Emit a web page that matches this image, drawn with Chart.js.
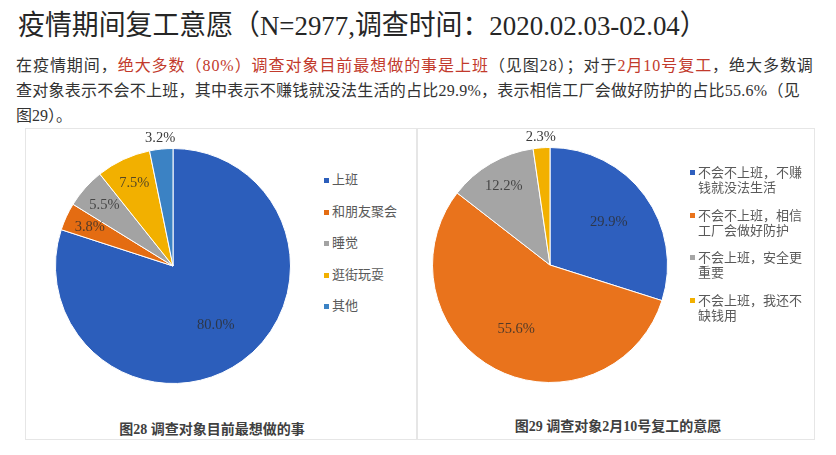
<!DOCTYPE html>
<html>
<head>
<meta charset="utf-8">
<script src="https://cdn.jsdelivr.net/npm/chart.js@4.4.1/dist/chart.umd.min.js"></script>
<style>
  body { margin: 0; width: 836px; height: 455px; background: #fff; position: relative; overflow: hidden;
         font-family: "Liberation Serif", "Noto Sans CJK SC", serif; }
  #title { position: absolute; left: 18px; top: 3px; font-size: 28px; color: #262626; white-space: nowrap;
           transform: scaleX(0.96); transform-origin: left center; }
  #para { position: absolute; left: 16px; top: 53px; font-size: 16px; line-height: 25px; color: #333; white-space: nowrap; }
  .red { color: #c23a2c; }
  .box { position: absolute; border: 1px solid #e6e6e6; background: #fff; }
  canvas { position: absolute; }
  .legend { position: absolute; font-size: 13px; color: #595959; }
  .legend .item { position: relative; padding-left: 8px; }
  .legend .mk { position: absolute; left: 0; width: 5px; height: 5px; }
  .cap { position: absolute; font-size: 14px; font-weight: bold; color: #404040; white-space: nowrap; transform: translateX(-50%); }
</style>
</head>
<body>
<div id="title">疫情期间复工意愿（N=2977,调查时间：2020.02.03-02.04）</div>
<div id="para"><span style="letter-spacing:0.95px">在疫情期间，<span class="red">绝大多数（80%）调查对象目前最想做的事是上班</span>（见图28）；对于<span class="red">2月10号复工</span>，绝大多数调</span><br><span style="letter-spacing:0.25px">查对象表示不会不上班，其中表示不赚钱就没法生活的占比29.9%，表示相信工厂会做好防护的占比55.6%（见</span><br>图29）。</div>

<div class="box" style="left:25px; top:128px; width:390px; height:310px;"></div>
<div class="box" style="left:417px; top:128px; width:396px; height:310px;"></div>

<canvas id="pie28" width="300" height="280" style="left:23px; top:126px;"></canvas>
<canvas id="pie29" width="300" height="280" style="left:400px; top:125px;"></canvas>

<div id="legend28" class="legend" style="left:324px; top:171px;"></div>
<div id="legend29" class="legend" style="left:690px; top:165px; width:114px;"></div>

<div class="cap" style="left:212px; top:418px;">图28 调查对象目前最想做的事</div>
<div class="cap" style="left:618px; top:415px;">图29 调查对象2月10号复工的意愿</div>

<script>
// Figure 28 data
const wishLabels = ['上班', '和朋友聚会', '睡觉', '逛街玩耍', '其他'];
const wishValues = [80.0, 3.8, 5.5, 7.5, 3.2];
const wishColors = ['#2c5ebb', '#e46c12', '#a3a3a3', '#f2b000', '#3b82c4'];

// Figure 29 data
const returnLabels = ['不会不上班，不赚钱就没法生活', '不会不上班，相信工厂会做好防护', '不会上班，安全更重要', '不会上班，我还不缺钱用'];
const returnValues = [29.9, 55.6, 12.2, 2.3];
const returnColors = ['#2e5fbe', '#e9731c', '#a5a5a5', '#f2b000'];

// Percent labels: small slices outside, big ones nearer the centre
const pieLabels = {
  id: 'pieLabels',
  afterDatasetsDraw(chart) {
    const ctx = chart.ctx;
    const values = chart.data.datasets[0].data;
    const total = values.reduce((s, v) => s + v, 0);
    ctx.save();
    ctx.font = '14.5px "Liberation Serif"';
    ctx.textAlign = 'center';
    ctx.textBaseline = 'middle';
    chart.getDatasetMeta(0).data.forEach((arc, i) => {
      const p = arc.getProps(['x', 'y', 'startAngle', 'endAngle', 'outerRadius'], true);
      const share = values[i] / total * 100;
      const k = share < 3.5 ? 1.09 : share > 25 ? 0.62 : 0.78;
      const mid = (p.startAngle + p.endAngle) / 2;
      ctx.fillStyle = share < 3.5 ? '#3a3a3a' : 'rgba(45,45,45,0.8)';
      ctx.fillText(values[i].toFixed(1) + '%', p.x + Math.cos(mid) * p.outerRadius * k, p.y + Math.sin(mid) * p.outerRadius * k);
    });
    ctx.restore();
  }
};

function makePie(id, labels, values, colors) {
  return new Chart(document.getElementById(id), {
    type: 'pie',
    data: {
      labels,
      datasets: [{ data: values, backgroundColor: colors, borderColor: '#ffffff', borderWidth: 1 }]
    },
    options: {
      responsive: false,
      animation: false,
      layout: { padding: { left: 32, right: 32, top: 22, bottom: 22 } },
      plugins: { legend: { display: false }, tooltip: { enabled: false } }
    },
    plugins: [pieLabels]
  });
}

function makeLegend(id, labels, colors, itemGap, markTop) {
  const box = document.getElementById(id);
  labels.forEach((text, i) => {
    const item = document.createElement('div');
    item.className = 'item';
    item.style.marginBottom = itemGap + 'px';
    item.style.lineHeight = id === 'legend29' ? '15px' : '18px';
    item.innerHTML = `<span class="mk" style="background:${colors[i]}; top:${markTop}px"></span>${text}`;
    box.appendChild(item);
  });
}

makePie('pie28', wishLabels, wishValues, wishColors);
makePie('pie29', returnLabels, returnValues, returnColors);
makeLegend('legend28', wishLabels, wishColors, 13.5, 7);
makeLegend('legend29', returnLabels, returnColors, 12.5, 5);
</script>
</body>
</html>
